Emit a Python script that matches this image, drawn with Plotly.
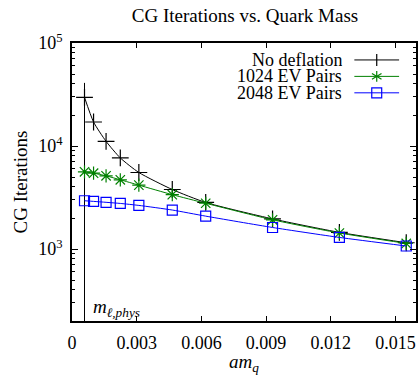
import plotly.graph_objects as go
import math

# ---- data ----
am_q = [0.00058, 0.0010, 0.00158, 0.00224, 0.0031, 0.00465, 0.0062, 0.0093, 0.0124, 0.0155]
no_deflation = [29700, 17100, 11100, 7660, 5530, 3780, 2830, 1960, 1450, 1150]
ev_1024 = [5610, 5450, 5130, 4700, 4170, 3370, 2780, 1920, 1430, 1133]
ev_2048 = [2940, 2900, 2840, 2770, 2650, 2390, 2085, 1618, 1295, 1069]
series_names = ["No deflation", "1024 EV Pairs", "2048 EV Pairs"]
phys_x = [0.00058, 0.00058]
phys_y = [200, 41000]
x_ticks = [0, 0.003, 0.006, 0.009, 0.012, 0.015]
x_ticklabels = ["0", "0.003", "0.006", "0.009", "0.012", "0.015"]
y_ticks = [1e3, 1e4, 1e5]
y_ticklabels = ["10<sup>3</sup>", "10<sup>4</sup>", "10<sup>5</sup>"]

FONT = "Liberation Serif"
W, H = 418, 375
ML, MR, MT, MB = 72, 0, 43, 53
YRANGE = [math.log10(200), 5]

fig = go.Figure()
fig.add_trace(go.Scatter(x=phys_x, y=phys_y, mode="lines",
                         line=dict(color="black", width=1), showlegend=False,
                         hoverinfo="skip"))
styles = [
    dict(color="black", symbol="cross-thin-open", size=12),
    dict(color="#008000", symbol="asterisk-open", size=11),
    dict(color="#0000ff", symbol="square-open", size=10),
]
for name, ys, st in zip(series_names, [no_deflation, ev_1024, ev_2048], styles):
    fig.add_trace(go.Scatter(
        x=am_q, y=ys, mode="lines+markers", name=name,
        line=dict(color=st["color"], width=1, shape="spline", smoothing=0.6),
        marker=dict(symbol=st["symbol"], size=st["size"], color=st["color"],
                    line=dict(color=st["color"], width=1.2)),
        showlegend=False))

pw = W - ML - MR
ph = H - MT - MB

def px(xp):
    return (xp - ML) / pw

def py(yp):
    return (H - MB - yp) / ph

annotations = []
shapes = []
rows = [60, 76.5, 93]
for name, st, yr in zip(series_names, styles, rows):
    annotations.append(dict(text=name, xref="paper", yref="paper", x=px(346), y=py(yr),
                            xanchor="right", yanchor="middle", showarrow=False, height=16,
                            valign="middle",
                            font=dict(family=FONT, size=18, color="black")))
    shapes.append(dict(type="line", xref="paper", yref="paper", x0=px(356), x1=px(401),
                       y0=py(yr), y1=py(yr), line=dict(color=st["color"], width=1)))
    cx, cy = 378.5, yr
    if st["symbol"].startswith("cross"):
        shapes.append(dict(type="line", xref="paper", yref="paper", x0=px(cx), x1=px(cx),
                           y0=py(cy - 6), y1=py(cy + 6), line=dict(color=st["color"], width=1.2)))
    elif st["symbol"].startswith("asterisk"):
        for dx, dy in [(0, 5.5), (4.8, 2.8), (4.8, -2.8)]:
            shapes.append(dict(type="line", xref="paper", yref="paper", x0=px(cx - dx), x1=px(cx + dx),
                               y0=py(cy - dy), y1=py(cy + dy), line=dict(color=st["color"], width=1.2)))
    else:
        shapes.append(dict(type="rect", xref="paper", yref="paper", x0=px(cx - 5), x1=px(cx + 5),
                           y0=py(cy - 5), y1=py(cy + 5), line=dict(color=st["color"], width=1.2)))

annotations.append(dict(text="<i>m</i><sub><i>ℓ,phys</i></sub>", xref="paper", yref="paper",
                        x=px(91), y=py(309), xanchor="left", yanchor="middle", showarrow=False,
                        font=dict(family=FONT, size=19, color="black")))

fig.update_layout(
    width=W, height=H,
    margin=dict(l=ML, r=MR, t=MT, b=MB),
    paper_bgcolor="white", plot_bgcolor="white",
    font=dict(family=FONT, size=18, color="black"),
    title=dict(text="CG Iterations vs. Quark Mass", x=(245) / W, xanchor="center",
               y=1 - 15 / H, yanchor="middle", font=dict(family=FONT, size=19)),
    annotations=annotations, shapes=shapes,
    showlegend=False,
    xaxis=dict(
        range=[0, pw / 21.69 * 0.001], tickvals=x_ticks, ticktext=x_ticklabels,
        ticks="inside", ticklen=5, tickwidth=1, tickcolor="black",
        showline=True, linecolor="black", linewidth=1.5, mirror="ticks",
        showgrid=False, zeroline=False, tickfont=dict(family=FONT, size=18),
        ticklabelstandoff=5,
        title=dict(text="<i>am</i><sub><i>q</i></sub>", font=dict(family=FONT, size=19), standoff=8),
    ),
    yaxis=dict(
        type="log", range=YRANGE, tickvals=y_ticks, ticktext=y_ticklabels,
        ticks="inside", ticklen=6, tickwidth=1, tickcolor="black",
        minor=dict(ticks="inside", ticklen=3, tickcolor="black", dtick="D1", showgrid=False),
        showline=True, linecolor="black", linewidth=1.5, mirror="ticks",
        showgrid=False, zeroline=False, tickfont=dict(family=FONT, size=18),
        ticklabelstandoff=4,
        title=dict(text="CG Iterations", font=dict(family=FONT, size=19), standoff=6),
    ),
)
fig.write_html("out.html")
